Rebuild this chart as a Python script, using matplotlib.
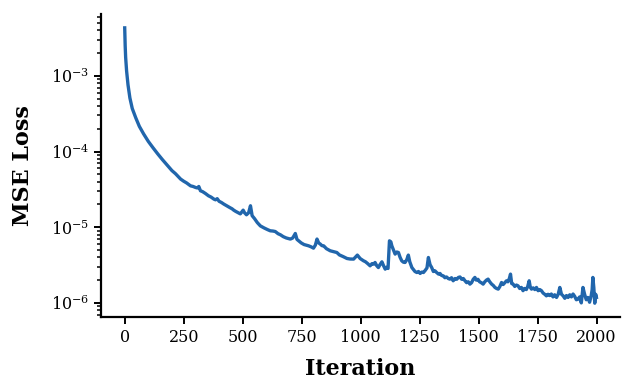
import matplotlib
matplotlib.use("Agg")
import matplotlib.pyplot as plt

iterations = [
    0, 1, 2, 4, 8, 14, 22, 32, 47, 62,
    80, 100, 120, 140, 160, 182, 200, 215, 237, 250,
    262, 279, 290, 300, 308, 314, 321, 330, 342, 355,
    366, 378, 385, 392, 400, 410, 420, 432, 445, 455,
    462, 470, 482, 490, 502, 508, 516, 525, 533, 540,
    550, 562, 575, 590, 605, 617, 628, 638, 650, 660,
    672, 685, 702, 712, 723, 730, 737, 748, 760, 779,
    790, 800, 808, 815, 822, 829, 836, 843, 855, 871,
    885, 899, 910, 925, 942, 955, 970, 986, 998, 1012,
    1020, 1030, 1040, 1048, 1055, 1061, 1068, 1075, 1082, 1090,
    1097, 1104, 1110, 1116, 1122, 1128, 1132, 1139, 1146, 1153,
    1160, 1167, 1174, 1181, 1188, 1195, 1202, 1208, 1217, 1224,
    1230, 1238, 1245, 1252, 1259, 1266, 1274, 1281, 1287, 1294,
    1301, 1308, 1315, 1322, 1330, 1336, 1343, 1350, 1357, 1364,
    1371, 1378, 1385, 1392, 1400, 1407, 1414, 1421, 1428, 1435,
    1442, 1449, 1456, 1463, 1470, 1477, 1484, 1490, 1497, 1504,
    1511, 1519, 1526, 1533, 1540, 1547, 1555, 1562, 1569, 1576,
    1583, 1590, 1597, 1604, 1611, 1618, 1624, 1630, 1635, 1640,
    1646, 1653, 1660, 1667, 1674, 1681, 1688, 1695, 1702, 1708,
    1714, 1719, 1724, 1731, 1738, 1745, 1752, 1759, 1766, 1773,
    1780, 1787, 1794, 1801, 1808, 1815, 1822, 1830, 1837, 1844,
    1851, 1858, 1865, 1872, 1879, 1886, 1893, 1900, 1907, 1914,
    1921, 1928, 1935, 1942, 1949, 1956, 1963, 1970, 1977, 1981,
    1984, 1988, 1992, 1996, 1999,
]
loss = [
    4.3e-3, 3.3e-3, 2.5e-3, 1.75e-3, 1.16e-3, 7.6e-4, 5.1e-4, 3.7e-4, 2.78e-4, 2.15e-4,
    1.71e-4, 1.36e-4, 1.12e-4, 9.3e-5, 7.8e-5, 6.5e-5, 5.6e-5, 5.1e-5, 4.32e-5, 4.05e-5,
    3.85e-5, 3.52e-5, 3.45e-5, 3.35e-5, 3.3e-5, 3.45e-5, 3.03e-5, 2.95e-5, 2.79e-5, 2.6e-5,
    2.5e-5, 2.35e-5, 2.3e-5, 2.38e-5, 2.2e-5, 2.12e-5, 2.02e-5, 1.92e-5, 1.82e-5, 1.75e-5,
    1.68e-5, 1.62e-5, 1.55e-5, 1.5e-5, 1.68e-5, 1.55e-5, 1.46e-5, 1.55e-5, 1.92e-5, 1.42e-5,
    1.3e-5, 1.15e-5, 1.04e-5, 9.8e-6, 9.3e-6, 8.96e-6, 8.9e-6, 8.77e-6, 8.2e-6, 7.94e-6,
    7.5e-6, 7.2e-6, 6.97e-6, 7.2e-6, 8.26e-6, 6.9e-6, 6.61e-6, 6.2e-6, 5.9e-6, 5.68e-6,
    5.5e-6, 5.29e-6, 5.8e-6, 6.97e-6, 6.2e-6, 5.98e-6, 5.7e-6, 5.68e-6, 5.2e-6, 4.88e-6,
    4.75e-6, 4.63e-6, 4.3e-6, 4.1e-6, 3.86e-6, 3.8e-6, 3.79e-6, 4.28e-6, 3.85e-6, 3.6e-6,
    3.5e-6, 3.3e-6, 3.09e-6, 3.3e-6, 3.25e-6, 3.42e-6, 3.1e-6, 2.93e-6, 3.2e-6, 3.49e-6,
    3.1e-6, 2.79e-6, 2.95e-6, 2.85e-6, 6.61e-6, 6.4e-6, 5.68e-6, 5.0e-6, 4.41e-6, 4.7e-6,
    4.63e-6, 4.0e-6, 3.6e-6, 3.45e-6, 3.42e-6, 3.7e-6, 4.28e-6, 3.5e-6, 2.93e-6, 2.75e-6,
    2.6e-6, 2.52e-6, 2.6e-6, 2.45e-6, 2.55e-6, 2.52e-6, 2.7e-6, 2.9e-6, 3.98e-6, 3.2e-6,
    2.93e-6, 2.6e-6, 2.65e-6, 2.52e-6, 2.4e-6, 2.45e-6, 2.3e-6, 2.28e-6, 2.15e-6, 2.2e-6,
    2.1e-6, 2.06e-6, 2.15e-6, 1.96e-6, 2.1e-6, 2.05e-6, 2.17e-6, 2.2e-6, 2.05e-6, 2.1e-6,
    1.96e-6, 1.85e-6, 1.9e-6, 1.77e-6, 1.85e-6, 2.05e-6, 2.17e-6, 2.0e-6, 2.05e-6, 1.9e-6,
    1.85e-6, 1.77e-6, 1.9e-6, 2.0e-6, 2.06e-6, 1.9e-6, 1.77e-6, 1.7e-6, 1.6e-6, 1.55e-6,
    1.52e-6, 1.65e-6, 1.86e-6, 1.75e-6, 1.85e-6, 1.96e-6, 1.9e-6, 2.1e-6, 2.4e-6, 1.8e-6,
    1.77e-6, 1.65e-6, 1.72e-6, 1.68e-6, 1.55e-6, 1.6e-6, 1.45e-6, 1.55e-6, 1.5e-6, 1.65e-6,
    1.96e-6, 1.6e-6, 1.52e-6, 1.58e-6, 1.5e-6, 1.6e-6, 1.45e-6, 1.5e-6, 1.45e-6, 1.35e-6,
    1.3e-6, 1.24e-6, 1.3e-6, 1.25e-6, 1.31e-6, 1.2e-6, 1.28e-6, 1.18e-6, 1.3e-6, 1.6e-6,
    1.3e-6, 1.24e-6, 1.15e-6, 1.25e-6, 1.18e-6, 1.28e-6, 1.2e-6, 1.31e-6, 1.22e-6, 1.1e-6,
    1.12e-6, 1.2e-6, 1.0e-6, 1.6e-6, 1.3e-6, 1.1e-6, 1.18e-6, 1.02e-6, 1.25e-6, 1.5e-6,
    2.17e-6, 1.6e-6, 0.99e-6, 1.3e-6, 1.18e-6,
]

x_ticks = [0, 250, 500, 750, 1000, 1250, 1500, 1750, 2000]
x_label = "Iteration"
y_label = "MSE Loss"

plt.rcParams["font.family"] = ["DejaVu Serif"]
fig = plt.figure(figsize=(6.32, 3.81), dpi=100)
ax = fig.add_axes([0.160, 0.168, 0.821, 0.795])
ax.plot(iterations, loss, color="#2166ac", lw=2.4)
ax.set_yscale("log")
ax.set_xticks(x_ticks)
ax.set_xlabel(x_label, fontsize=16, fontweight="bold", labelpad=9)
ax.set_ylabel(y_label, fontsize=16, fontweight="bold", labelpad=12)
for s in ["top", "right"]:
    ax.spines[s].set_visible(False)
for s in ["left", "bottom"]:
    ax.spines[s].set_linewidth(1.6)
ax.tick_params(axis="both", which="major", labelsize=11.5, length=5, width=1.4)
ax.tick_params(axis="y", which="minor", length=3, width=1.1)
fig.savefig("out.png", dpi=100)
